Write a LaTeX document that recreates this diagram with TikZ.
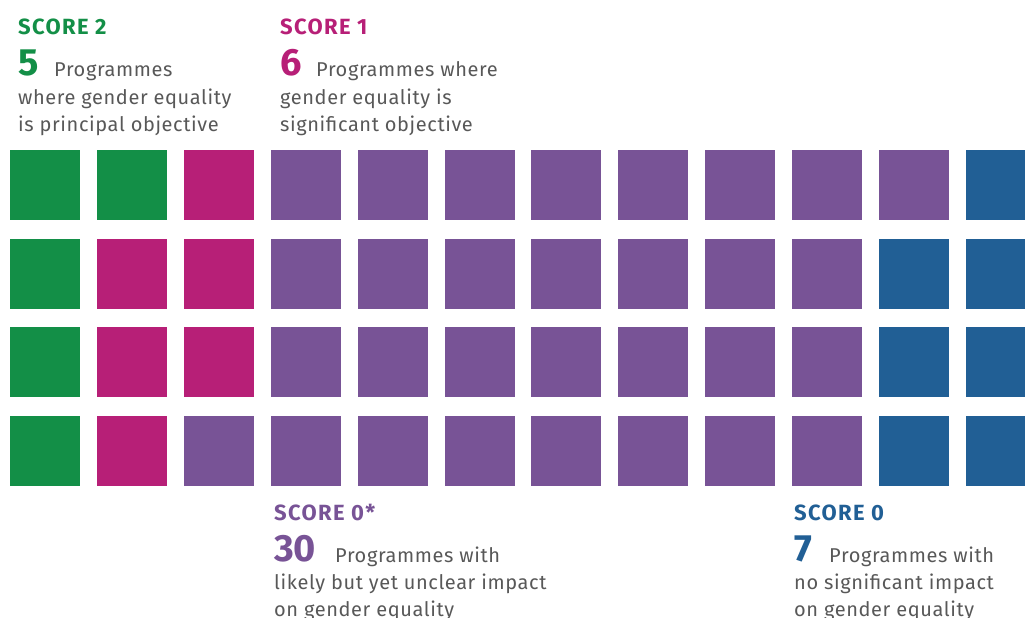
\documentclass[tikz,border=0pt]{standalone}
\usepackage{fontspec}
\setmainfont{Fira Sans}
\newfontfamily\bodyfont[LetterSpace=3]{Fira Sans}
\newfontfamily\titlefont[LetterSpace=6]{Fira Sans}
\usepackage{tikz}
\usetikzlibrary{positioning}
\definecolor{scoreg}{RGB}{19,143,71}
\definecolor{scorem}{RGB}{183,31,119}
\definecolor{scorep}{RGB}{120,83,150}
\definecolor{scoreb}{RGB}{33,95,149}
\definecolor{bodygray}{RGB}{88,88,88}
\tikzstyle{tile} = [minimum size=70pt, inner sep=0pt, outer sep=0pt, anchor=north west]
\tikzstyle{title} = [anchor=base west, inner sep=0pt, font=\titlefont\fontsize{22}{22}\selectfont\bfseries]
\tikzstyle{count} = [anchor=base west, inner sep=0pt, font=\fontsize{38}{38}\selectfont\bfseries]
\tikzstyle{body} = [anchor=base west, inner sep=0pt, text=bodygray, font=\bodyfont\fontsize{20}{27}\selectfont]

\begin{document}
\begin{tikzpicture}[x=1pt, y=-1pt]
\useasboundingbox (0,0) rectangle (1025,618);
\clip (0,0) rectangle (1025,618);

% Tile grid, one colour letter per tile
\foreach \row/\cols in {0/{g,g,m,p,p,p,p,p,p,p,p,b},
                        1/{g,m,m,p,p,p,p,p,p,p,b,b},
                        2/{g,m,m,p,p,p,p,p,p,p,b,b},
                        3/{g,m,p,p,p,p,p,p,p,p,b,b}}
  \foreach \c [count=\col from 0] in \cols
    \node[tile, fill=score\c] (tile-\row-\col) at (10+86.9*\col, 150+88.7*\row) {};

% Score 2
\node[title, text=scoreg] (s2title) at (18,35) {SCORE 2};
\node[count, text=scoreg] (s2count) at (18,76) {5};
\node[body] (s2line1) at (54,77) {Programmes};
\node[body] (s2line2) at (18,104) {where gender equality};
\node[body] (s2line3) at (18,131) {is principal objective};

% Score 1
\node[title, text=scorem] (s1title) at (280,35) {SCORE 1};
\node[count, text=scorem] (s1count) at (280,76) {6};
\node[body] (s1line1) at (316,77) {Programmes where};
\node[body] (s1line2) at (280,104) {gender equality is};
\node[body] (s1line3) at (280,131) {significant objective};

% Score 0*
\node[title, text=scorep] (s0stitle) at (274,520) {SCORE 0*};
\node[count, text=scorep] (s0scount) at (274,561) {30};
\node[body] (s0sline1) at (335,562) {Programmes with};
\node[body] (s0sline2) at (274,589) {likely but yet unclear impact};
\node[body] (s0sline3) at (274,616) {on gender equality};

% Score 0
\node[title, text=scoreb] (s0title) at (794,520) {SCORE 0};
\node[count, text=scoreb] (s0count) at (794,561) {7};
\node[body] (s0line1) at (829,562) {Programmes with};
\node[body] (s0line2) at (794,589) {no significant impact};
\node[body] (s0line3) at (794,616) {on gender equality};
\end{tikzpicture}
\end{document}
